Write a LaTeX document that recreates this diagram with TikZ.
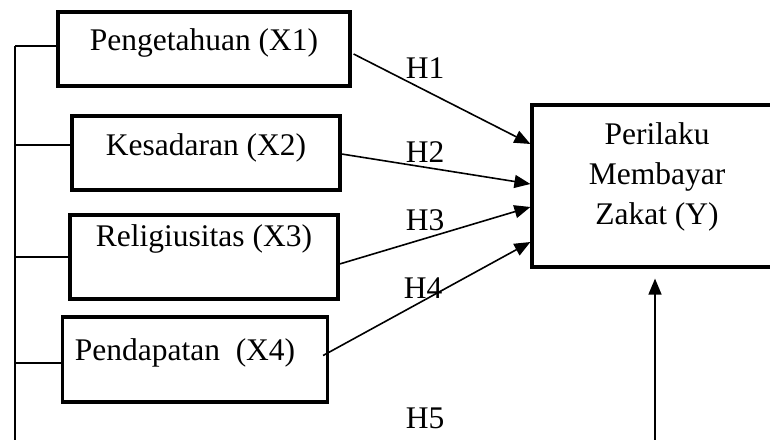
\documentclass[tikz,border=0pt]{standalone}
\usepackage{fontspec}
\setmainfont{Liberation Serif}
\usetikzlibrary{arrows.meta,calc}
\begin{document}
\begin{tikzpicture}[x=1pt,y=-1pt,
  box/.style={draw,line width=3.2pt,rectangle,inner sep=0pt},
  txt/.style={font=\fontsize{31.5}{40}\selectfont,inner sep=0pt,align=center},
  conn/.style={line width=1.6pt},
  arr/.style={line width=1.6pt,-{Triangle[length=16pt,width=13pt]}},
  bus/.style={line width=2pt}]
\clip (0,0) rectangle (770,439);
\useasboundingbox (0,0) rectangle (770,439);
% predictor boxes
\node[box,minimum width=292pt,minimum height=74pt] (x1) at (204,49) {};
\node[txt] (t1) at (204,43) {Pengetahuan (X1)};
\node[box,minimum width=268pt,minimum height=74pt] (x2) at (206,153) {};
\node[txt] (t2) at (206,148) {Kesadaran (X2)};
\node[box,minimum width=268pt,minimum height=84pt] (x3) at (204,257) {};
\node[txt] (t3) at (204,239) {Religiusitas (X3)};
\node[box,minimum width=265pt,minimum height=85pt] (x4) at (195,359.5) {};
\node[txt] (t4) at (185,353) {Pendapatan\ \ (X4)};
% outcome box
\node[box,minimum width=250pt,minimum height=162pt] (y) at (657,186) {};
\node[txt] (ty) at (657,177) {Perilaku\\Membayar\\Zakat (Y)};
% left bus
\coordinate (busTop) at (15,46);
\coordinate (busBot) at (15,441);
\draw[bus] (busTop) -- (busBot);
\draw[conn] (busTop) -- (x1.west |- busTop);
\draw[conn] (15,145) -- (x2.west |- 0,145);
\draw[conn] (15,257) -- (x3.west |- 0,257);
\draw[conn] (15,363) -- (x4.west |- 0,363);
% hypothesis arrows
\draw[arr] ($(x1.east)+(2,5)$) -- (y.west |- 0,144);
\draw[arr] ($(x2.east)+(0,1)$) -- (y.west |- 0,184);
\draw[arr] ($(x3.east)+(0,7)$) -- (y.west |- 0,207);
\draw[arr] ($(x4.east)+(-6,-4)$) -- (y.west |- 0,242);
\coordinate (h5start) at (655,441);
\draw[arr] (h5start) -- ($(y.south)+(-2,10)$);
% labels
\node[txt] (h1) at (425,68) {H1};
\node[txt] (h2) at (425,152) {H2};
\node[txt] (h3) at (425,220) {H3};
\node[txt] (h4) at (423,288) {H4};
\node[txt] (h5) at (425,418) {H5};
\end{tikzpicture}
\end{document}
